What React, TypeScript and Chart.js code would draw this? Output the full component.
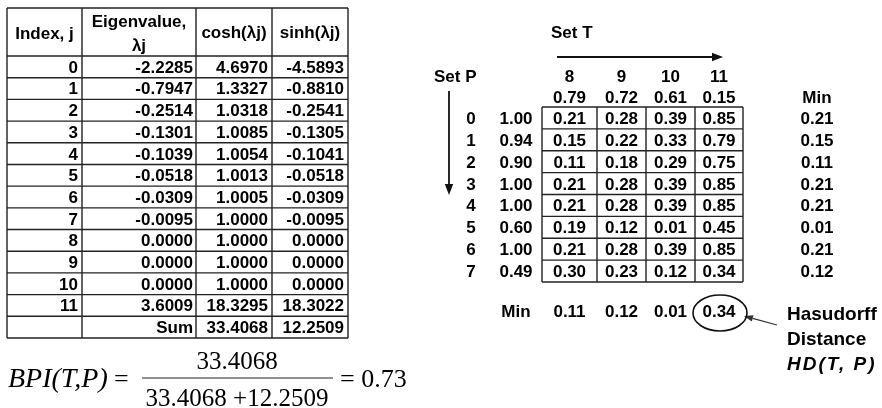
import React, { useEffect, useRef } from "react";
import { Chart, registerables } from "chart.js";
Chart.register(...registerables);

// ---------- data ----------
const indexJ = [0, 1, 2, 3, 4, 5, 6, 7, 8, 9, 10, 11];
const eigenvalues = [-2.2285, -0.7947, -0.2514, -0.1301, -0.1039, -0.0518, -0.0309, -0.0095, 0.0, 0.0, 0.0, 3.6009];
const coshValues = [4.697, 1.3327, 1.0318, 1.0085, 1.0054, 1.0013, 1.0005, 1.0, 1.0, 1.0, 1.0, 18.3295];
const sinhValues = [-4.5893, -0.881, -0.2541, -0.1305, -0.1041, -0.0518, -0.0309, -0.0095, 0.0, 0.0, 0.0, 18.3022];
const coshSum = 33.4068;
const sinhSum = 12.2509;
const bpiValue = 0.73;

const setT = [8, 9, 10, 11];
const setTWeights = [0.79, 0.72, 0.61, 0.15];
const setP = [0, 1, 2, 3, 4, 5, 6, 7];
const setPWeights = [1.0, 0.94, 0.9, 1.0, 1.0, 0.6, 1.0, 0.49];
const distRow0 = [0.21, 0.28, 0.39, 0.85];
const distRow1 = [0.15, 0.22, 0.33, 0.79];
const distRow2 = [0.11, 0.18, 0.29, 0.75];
const distRow3 = [0.21, 0.28, 0.39, 0.85];
const distRow4 = [0.21, 0.28, 0.39, 0.85];
const distRow5 = [0.19, 0.12, 0.01, 0.45];
const distRow6 = [0.21, 0.28, 0.39, 0.85];
const distRow7 = [0.3, 0.23, 0.12, 0.34];
const distMatrix = [distRow0, distRow1, distRow2, distRow3, distRow4, distRow5, distRow6, distRow7];
const rowMins = [0.21, 0.15, 0.11, 0.21, 0.21, 0.01, 0.21, 0.12];
const colMins = [0.11, 0.12, 0.01, 0.34];

// ---------- layout (pixel units of the linear scales) ----------
const W = 882;
const H = 408;
const LT_COLS = [7, 82, 196, 272, 348];
const LT_TOP = 8;
const LT_HEAD = 56;
const LT_BOTTOM = 338;
const LT_ROWS = indexJ.length + 1;
const LT_RH = (LT_BOTTOM - LT_HEAD) / LT_ROWS;
const G_COLS = [542, 597, 646, 695, 743];
const G_TOP = 107;
const G_BOTTOM = 282;
const G_RH = (G_BOTTOM - G_TOP) / setP.length;

const SANS = '"Liberation Sans", Arial, sans-serif';
const SERIF = '"Liberation Serif", "Times New Roman", serif';
const BOLD = `bold 17px ${SANS}`;

type Pt = { x: number; y: number; t: string };
type Style = { font: string; align: CanvasTextAlign; size: number; spacing?: number };

const styles: Record<string, Style> = {
  right: { font: BOLD, align: "right", size: 17 },
  center: { font: BOLD, align: "center", size: 17 },
  left: { font: BOLD, align: "left", size: 17 },
  note: { font: `bold 19px ${SANS}`, align: "left", size: 19 },
  noteItalic: { font: `italic bold 19px ${SANS}`, align: "left", size: 19, spacing: 2 },
  serif: { font: `25px ${SERIF}`, align: "center", size: 25 },
  serifLeft: { font: `26px ${SERIF}`, align: "left", size: 25 },
  serifItalic: { font: `italic 28px ${SERIF}`, align: "left", size: 26 },
};

const ltRowY = (i: number) => LT_HEAD + LT_RH * (i + 0.5);
const gRowY = (i: number) => G_TOP + G_RH * (i + 0.5);
const gColX = (c: number) => (G_COLS[c] + G_COLS[c + 1]) / 2;

function buildDatasets() {
  const right: Pt[] = [];
  const center: Pt[] = [];
  const left: Pt[] = [];
  const note: Pt[] = [];
  const noteItalic: Pt[] = [];
  const serif: Pt[] = [];
  const serifLeft: Pt[] = [];
  const serifItalic: Pt[] = [];

  // left table header
  center.push({ x: (LT_COLS[0] + LT_COLS[1]) / 2, y: 33, t: "Index, j" });
  center.push({ x: (LT_COLS[1] + LT_COLS[2]) / 2, y: 21, t: "Eigenvalue," });
  center.push({ x: (LT_COLS[1] + LT_COLS[2]) / 2, y: 45, t: "λj" });
  center.push({ x: (LT_COLS[2] + LT_COLS[3]) / 2, y: 32, t: "cosh(λj)" });
  center.push({ x: (LT_COLS[3] + LT_COLS[4]) / 2, y: 32, t: "sinh(λj)" });
  indexJ.forEach((j, i) => {
    const y = ltRowY(i);
    right.push({ x: LT_COLS[1] - 4, y, t: String(j) });
    right.push({ x: LT_COLS[2] - 3, y, t: eigenvalues[i].toFixed(4) });
    right.push({ x: LT_COLS[3] - 4, y, t: coshValues[i].toFixed(4) });
    right.push({ x: LT_COLS[4] - 4, y, t: sinhValues[i].toFixed(4) });
  });
  const sy = ltRowY(indexJ.length);
  right.push({ x: LT_COLS[2] - 3, y: sy, t: "Sum" });
  right.push({ x: LT_COLS[3] - 4, y: sy, t: coshSum.toFixed(4) });
  right.push({ x: LT_COLS[4] - 4, y: sy, t: sinhSum.toFixed(4) });

  // right part
  left.push({ x: 551, y: 32, t: "Set T" });
  left.push({ x: 434, y: 76, t: "Set P" });
  setT.forEach((t, c) => {
    center.push({ x: gColX(c), y: 76, t: String(t) });
    center.push({ x: gColX(c), y: 97, t: setTWeights[c].toFixed(2) });
    center.push({ x: gColX(c), y: 311, t: colMins[c].toFixed(2) });
  });
  center.push({ x: 817, y: 97, t: "Min" });
  center.push({ x: 516, y: 311, t: "Min" });
  setP.forEach((p, r) => {
    const y = gRowY(r);
    center.push({ x: 471, y, t: String(p) });
    center.push({ x: 516, y, t: setPWeights[r].toFixed(2) });
    distMatrix[r].forEach((v, c) => center.push({ x: gColX(c), y, t: v.toFixed(2) }));
    center.push({ x: 817, y, t: rowMins[r].toFixed(2) });
  });
  note.push({ x: 787, y: 313, t: "Hasudorff" });
  note.push({ x: 787, y: 338, t: "Distance" });
  noteItalic.push({ x: 787, y: 363, t: "HD(T, P)" });

  // formula
  serifItalic.push({ x: 8, y: 378, t: "BPI(T,P)" });
  serifLeft.push({ x: 114, y: 378, t: "=" });
  serif.push({ x: 237, y: 360, t: coshSum.toFixed(4) });
  serif.push({ x: 237, y: 397, t: `${coshSum.toFixed(4)} +${sinhSum.toFixed(4)}` });
  serifLeft.push({ x: 340, y: 378, t: `= ${bpiValue.toFixed(2)}` });

  const mk = (label: string, data: Pt[]) => ({ label, data, pointRadius: 0, pointHoverRadius: 0, showLine: false });
  return [
    mk("right", right),
    mk("center", center),
    mk("left", left),
    mk("note", note),
    mk("noteItalic", noteItalic),
    mk("serif", serif),
    mk("serifLeft", serifLeft),
    mk("serifItalic", serifItalic),
  ];
}

const tablePlugin = {
  id: "tablePlugin",
  afterDatasetsDraw(chart: any) {
    const ctx: CanvasRenderingContext2D = chart.ctx;
    const xs = chart.scales.x;
    const ys = chart.scales.y;
    const px = (v: number) => xs.getPixelForValue(v);
    const py = (v: number) => ys.getPixelForValue(v);
    ctx.save();
    ctx.strokeStyle = "#222";
    ctx.fillStyle = "#111";
    ctx.lineWidth = 1.4;
    const line = (x1: number, y1: number, x2: number, y2: number) => {
      ctx.beginPath();
      ctx.moveTo(px(x1), py(y1));
      ctx.lineTo(px(x2), py(y2));
      ctx.stroke();
    };
    // left table grid
    LT_COLS.forEach((x) => line(x, LT_TOP, x, LT_BOTTOM));
    line(LT_COLS[0], LT_TOP, LT_COLS[4], LT_TOP);
    for (let r = 0; r <= LT_ROWS; r++) {
      const y = LT_HEAD + LT_RH * r;
      line(LT_COLS[0], y, LT_COLS[4], y);
    }
    // right grid
    G_COLS.forEach((x) => line(x, G_TOP, x, G_BOTTOM));
    for (let r = 0; r <= setP.length; r++) {
      const y = G_TOP + G_RH * r;
      line(G_COLS[0], y, G_COLS[4], y);
    }
    // fraction bar
    ctx.lineWidth = 1.2;
    line(142, 378, 333, 378);

    const arrow = (x1: number, y1: number, x2: number, y2: number, lw: number, hl: number, hw: number, color: string) => {
      ctx.strokeStyle = color;
      ctx.fillStyle = color;
      ctx.lineWidth = lw;
      const ang = Math.atan2(py(y2) - py(y1), px(x2) - px(x1));
      const bx = px(x2) - Math.cos(ang) * hl;
      const by = py(y2) - Math.sin(ang) * hl;
      ctx.beginPath();
      ctx.moveTo(px(x1), py(y1));
      ctx.lineTo(bx, by);
      ctx.stroke();
      ctx.beginPath();
      ctx.moveTo(px(x2), py(y2));
      ctx.lineTo(bx + Math.sin(ang) * hw, by - Math.cos(ang) * hw);
      ctx.lineTo(bx - Math.sin(ang) * hw, by + Math.cos(ang) * hw);
      ctx.closePath();
      ctx.fill();
    };
    arrow(557, 57, 723, 57, 1.8, 11, 4.2, "#111");
    arrow(449, 91, 449, 195, 1.8, 11, 4.2, "#111");
    arrow(777, 325, 744, 316, 1.1, 9, 3.2, "#333");

    // ellipse around Hausdorff value
    ctx.strokeStyle = "#111";
    ctx.lineWidth = 1.6;
    ctx.beginPath();
    ctx.ellipse(px(720), py(313), 27, 18, 0, 0, Math.PI * 2);
    ctx.stroke();

    // texts from dataset elements
    ctx.fillStyle = "#000";
    chart.data.datasets.forEach((ds: any, i: number) => {
      const st = styles[ds.label];
      const meta = chart.getDatasetMeta(i);
      ctx.font = st.font;
      ctx.textAlign = st.align;
      ctx.textBaseline = "alphabetic";
      (ctx as any).letterSpacing = st.spacing ? `${st.spacing}px` : "0px";
      meta.data.forEach((el: any, j: number) => {
        const p = ds.data[j] as Pt;
        ctx.fillText(p.t, el.x, el.y + st.size * 0.35);
      });
    });
    (ctx as any).letterSpacing = "0px";
    ctx.restore();
  },
};

export default function App() {
  const ref = useRef<HTMLCanvasElement>(null);
  useEffect(() => {
    document.body.style.margin = "0";
    if (!ref.current) return;
    const chart = new Chart(ref.current, {
      type: "scatter",
      data: { datasets: buildDatasets() as any },
      options: {
        animation: false,
        responsive: false,
        events: [],
        layout: { padding: 0 },
        plugins: { legend: { display: false }, tooltip: { enabled: false } },
        scales: {
          x: { type: "linear", min: 0, max: W, display: false },
          y: { type: "linear", min: 0, max: H, reverse: true, display: false },
        },
      },
      plugins: [tablePlugin],
    });
    return () => chart.destroy();
  }, []);
  return (
    <div style={{ position: "absolute", left: 0, top: 0, width: W, height: H, background: "#fff" }}>
      <canvas ref={ref} width={W} height={H} style={{ display: "block" }} />
    </div>
  );
}
